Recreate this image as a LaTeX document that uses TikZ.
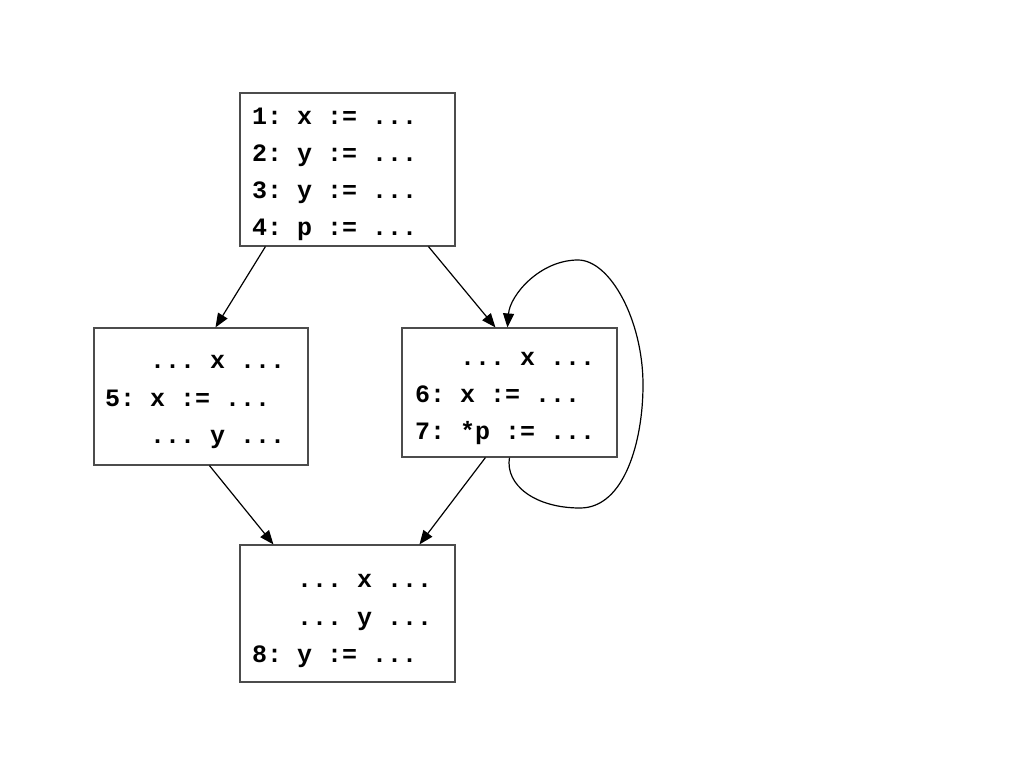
\documentclass[tikz,border=0pt]{standalone}
\usepackage{fontspec}
\newfontfamily\cmono{Liberation Mono}[BoldFont={Liberation Mono Bold}]
\usetikzlibrary{arrows.meta}
\tikzset{
  box/.style={draw=black!70, line width=1.1pt, inner sep=0pt, fill=none},
  codeline/.style={anchor=base west, inner sep=0pt, font=\cmono\bfseries\fontsize{25}{30}\selectfont},
  flow/.style={draw=black, line width=1.2pt, -{Triangle[length=14pt,width=11pt]}}
}
\begin{document}
\begin{tikzpicture}[x=1pt,y=-1pt]
\useasboundingbox (0,0) rectangle (1024,768);
% boxes
\node[box, minimum width=215pt, minimum height=153pt] (b1) at (347.5,169.5) {};
\node[box, minimum width=214pt, minimum height=137pt] (b2) at (201,396.5) {};
\node[box, minimum width=215pt, minimum height=129pt] (b3) at (509.5,392.5) {};
\node[box, minimum width=215pt, minimum height=137pt] (b4) at (347.5,613.5) {};
% text
\node[codeline] (t1) at (252,124) {1:\ x\ :=\ ...};
\node[codeline] (t2) at (252,161) {2:\ y\ :=\ ...};
\node[codeline] (t3) at (252,198) {3:\ y\ :=\ ...};
\node[codeline] (t4) at (252,235) {4:\ p\ :=\ ...};
\node[codeline] (l1) at (150,368) {...\ x\ ...};
\node[codeline] (l2) at (105,406) {5:\ x\ :=\ ...};
\node[codeline] (l3) at (150,443) {...\ y\ ...};
\node[codeline] (r1) at (460,365) {...\ x\ ...};
\node[codeline] (r2) at (415,402) {6:\ x\ :=\ ...};
\node[codeline] (r3) at (415,439) {7:\ *p\ :=\ ...};
\node[codeline] (m1) at (297,587) {...\ x\ ...};
\node[codeline] (m2) at (297,625) {...\ y\ ...};
\node[codeline] (m3) at (252,662) {8:\ y\ :=\ ...};
% connectors
\draw[flow] ([xshift=26pt]b1.south west) -- ([xshift=122pt]b2.north west);
\draw[flow] ([xshift=189pt]b1.south west) -- ([xshift=94pt]b3.north west);
\draw[flow] ([xshift=116pt]b2.south west) -- ([xshift=34pt]b4.north west);
\draw[flow] ([xshift=84pt]b3.south west) -- ([xshift=180pt]b4.north west);
\coordinate (lp1) at (580,508);
\coordinate (lp2) at (643,385);
\coordinate (lp3) at (578,260);
\draw[flow] ([xshift=108pt]b3.south west) .. controls (505,485) and (535,508) .. (lp1)
  .. controls (625,508) and (643,440) .. (lp2)
  .. controls (643,320) and (610,260) .. (lp3)
  .. controls (540,260) and (510,295) .. ([xshift=106pt]b3.north west);
\end{tikzpicture}
\end{document}
